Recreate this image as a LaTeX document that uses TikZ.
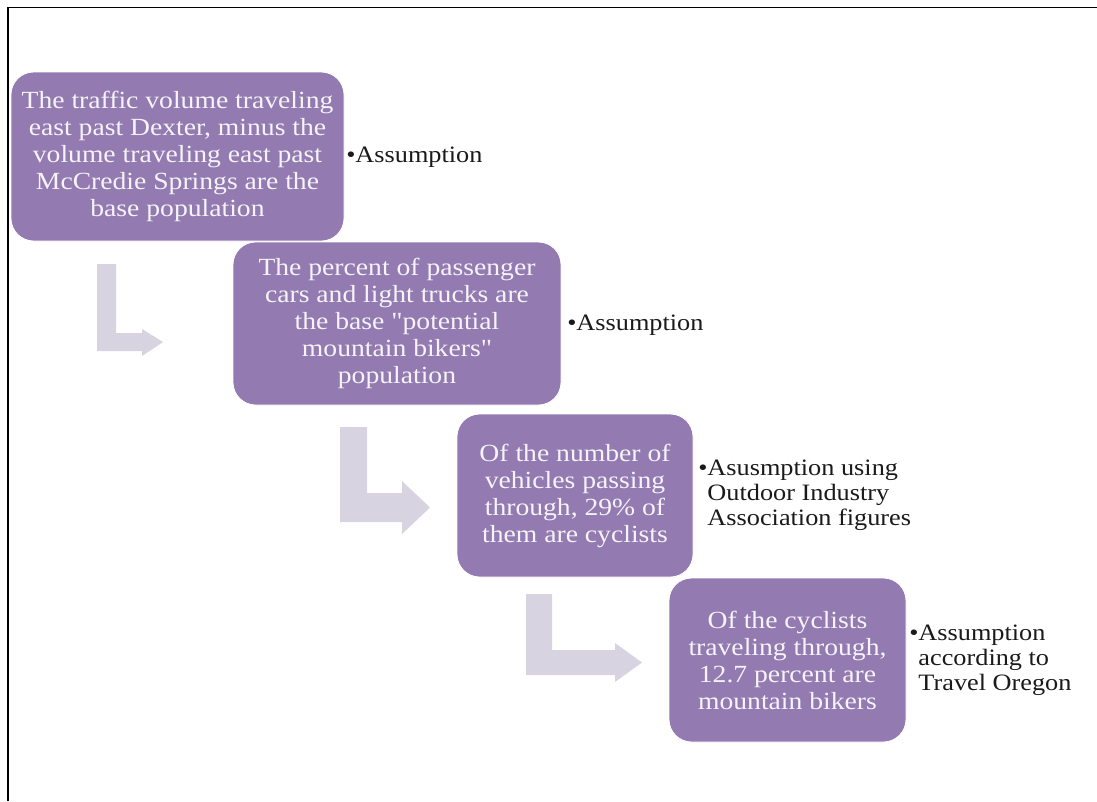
\documentclass[tikz,border=0pt]{standalone}
\usepackage{fontspec}
\setmainfont[FakeStretch=1.12, Ligatures=TeXOff]{Liberation Serif}
\definecolor{boxfill}{HTML}{937AB1}
\definecolor{arrowfill}{HTML}{D8D3E1}
\definecolor{boxtext}{HTML}{F5F3F8}
\definecolor{labeltext}{HTML}{1A1A1A}
\tikzset{
  stepbox/.style={rounded corners=17pt, fill=boxfill, draw=white, line width=0.6pt,
    text=boxtext, align=center, inner sep=0pt,
    font=\fontsize{18.5pt}{20.25pt}\selectfont},
  notelabel/.style={anchor=west, align=left, inner sep=0pt, text=labeltext,
    font=\fontsize{17.6pt}{18.75pt}\selectfont},
  bentarrow/.style={fill=arrowfill, draw=none},
  frameline/.style={draw=black, line width=1.1pt}
}
\begin{document}
\begin{tikzpicture}[x=0.75pt,y=-0.75pt]
\useasboundingbox (0,0) rectangle (1097,801);
\draw[frameline] (8,801) -- (8,7.5) -- (1097,7.5);
% bent arrows
\fill[bentarrow] (97,264) -- (116,264) -- (116,333) -- (142,333) -- (142,329) -- (163,342) -- (142,356) -- (142,351) -- (97,351) -- cycle;
\fill[bentarrow] (340,427) -- (367,427) -- (367,493) -- (402,493) -- (402,481) -- (430,507.5) -- (402,534) -- (402,522) -- (340,522) -- cycle;
\fill[bentarrow] (526,594) -- (552,594) -- (552,650) -- (615,650) -- (615,643) -- (642,662.5) -- (615,682) -- (615,675) -- (526,675) -- cycle;
% boxes
\node[stepbox, minimum width=249.75pt, minimum height=126.75pt] (b1) at (177.5,156.5)
  {The traffic volume traveling\\east past Dexter, minus the\\volume traveling east past\\McCredie Springs are the\\base population};
\node[stepbox, minimum width=246pt, minimum height=122.25pt] (b2) at (397,323.5)
  {The percent of passenger\\cars and light trucks are\\the base "potential\\mountain bikers"\\population};
\node[stepbox, minimum width=177pt, minimum height=122.25pt] (b3) at (575,495.5)
  {Of the number of\\vehicles passing\\through, 29\% of\\them are cyclists};
\node[stepbox, minimum width=177.75pt, minimum height=123pt] (b4) at (787.5,660)
  {Of the cyclists\\traveling through,\\12.7 percent are\\mountain bikers};
% labels
\node[notelabel] (l1) at (346,157) {•Assumption};
\node[notelabel] (l2) at (567,325) {•Assumption};
\node[notelabel] (l3) at (698,495) {•Asusmption using\\\phantom{•}Outdoor Industry\\\phantom{•}Association figures};
\node[notelabel] (l4) at (909,660) {•Assumption\\\phantom{•}according to\\\phantom{•}Travel Oregon};
\end{tikzpicture}
\end{document}
